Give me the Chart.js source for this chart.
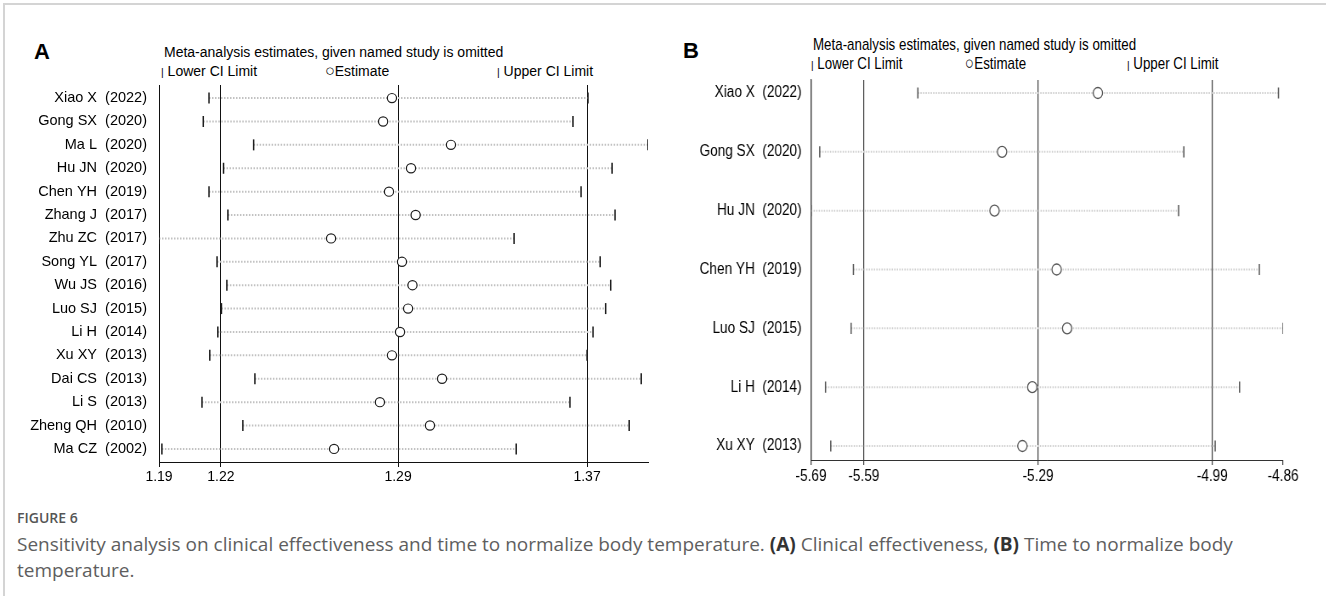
<!DOCTYPE html>
<html><head><meta charset="utf-8">
<script src="https://cdn.jsdelivr.net/npm/chart.js@4.4.1/dist/chart.umd.min.js"></script>
<style>
html,body{margin:0;padding:0;background:#fff;}
body{width:1326px;height:596px;position:relative;overflow:hidden;font-family:"Liberation Sans",Arial,sans-serif;}
.frame{position:absolute;left:3px;top:3px;right:-5px;bottom:-5px;border-top:2px solid #d4d4d4;border-left:2px solid #d4d4d4;}
.t{position:absolute;white-space:nowrap;color:#000;}
.sym{font-size:0.75em;}
.circ{font-size:1.15em;line-height:0;}
.nb{font:15.7px/16px 'Liberation Sans',Arial;transform:scaleX(0.85);transform-origin:0 0;}
#cA{position:absolute;left:0;top:0;}
#cB{position:absolute;left:666px;top:0;width:776px;height:500px;transform:scaleX(0.85);transform-origin:0 0;}
.cap{font-family:"Open Sans",sans-serif;color:#5e5e5e;}
</style></head>
<body>
<div class="frame"></div>

<div class="t" style="left:34px;top:40px;font:bold 22px/24px 'Liberation Sans',Arial;">A</div>
<div class="t" style="left:164px;top:45px;font:14px/14px 'Liberation Sans',Arial;">Meta-analysis estimates, given named study is omitted</div>
<div class="t" style="left:161px;top:64px;font:14px/14px 'Liberation Sans',Arial;"><span class="sym">|</span> Lower CI Limit</div>
<div class="t" style="left:325px;top:64px;font:14px/14px 'Liberation Sans',Arial;"><span class="circ">○</span>Estimate</div>
<div class="t" style="left:497px;top:64px;font:14px/14px 'Liberation Sans',Arial;"><span class="sym">|</span> Upper CI Limit</div>

<div class="t" style="left:683px;top:39px;font:bold 22px/24px 'Liberation Sans',Arial;">B</div>
<div class="t nb" style="left:813px;top:37px;">Meta-analysis estimates, given named study is omitted</div>
<div class="t nb" style="left:811px;top:56px;"><span class="sym">|</span> Lower CI Limit</div>
<div class="t nb" style="left:965px;top:56px;"><span class="circ">○</span>Estimate</div>
<div class="t nb" style="left:1127px;top:56px;"><span class="sym">|</span> Upper CI Limit</div>

<canvas id="cA" width="660" height="500"></canvas>
<canvas id="cB" width="776" height="500"></canvas>

<div class="t cap" style="left:17px;top:509px;font-size:14px;line-height:18px;font-weight:600;color:#555;">FIGURE 6</div>
<div class="t cap" style="left:17px;top:531px;font-size:19px;line-height:26px;">Sensitivity analysis on clinical effectiveness and time to normalize body temperature. <b style="color:#333">(A)</b> Clinical effectiveness, <b style="color:#333">(B)</b> Time to normalize body<br>temperature.</div>

<script>
// ---------- Panel A : clinical effectiveness ----------
const studiesA = ['Xiao X  (2022)','Gong SX  (2020)','Ma L  (2020)','Hu JN  (2020)','Chen YH  (2019)','Zhang J  (2017)','Zhu ZC  (2017)','Song YL  (2017)','Wu JS  (2016)','Luo SJ  (2015)','Li H  (2014)','Xu XY  (2013)','Dai CS  (2013)','Li S  (2013)','Zheng QH  (2010)','Ma CZ  (2002)'];
const lowerA = [1.2154,1.2132,1.2327,1.2210,1.2154,1.2227,1.1963,1.2185,1.2223,1.2202,1.2188,1.2157,1.2332,1.2127,1.2285,1.1974];
const estA   = [1.2879,1.2843,1.3122,1.2957,1.2867,1.2976,1.2633,1.2920,1.2963,1.2945,1.2912,1.2879,1.3085,1.2830,1.3035,1.2645];
const upperA = [1.3704,1.3639,1.3967,1.3809,1.3674,1.3822,1.3387,1.3757,1.3803,1.3781,1.3726,1.3700,1.3937,1.3626,1.3884,1.3396];
const tickValsA   = [1.1963,1.22,1.2904,1.37];
const tickLabelsA = ['1.19','1.22','1.29','1.37'];
const minA = 1.1963, maxA = 1.3967;

// ---------- Panel B : time to normalize body temperature ----------
const studiesB = ['Xiao X  (2022)','Gong SX  (2020)','Hu JN  (2020)','Chen YH  (2019)','Luo SJ  (2015)','Li H  (2014)','Xu XY  (2013)'];
const lowerB = [-5.497,-5.666,-5.681,-5.608,-5.612,-5.656,-5.647];
const estB   = [-5.187,-5.352,-5.365,-5.258,-5.240,-5.300,-5.317];
const upperB = [-4.876,-5.039,-5.048,-4.909,-4.868,-4.943,-4.985];
const tickValsB   = [-5.681,-5.59,-5.29,-4.99,-4.868];
const tickLabelsB = ['-5.69','-5.59','-5.29','-4.99','-4.86'];
const minB = -5.681, maxB = -4.868;

function buildChart(id, cfg) {
  const datasets = [];
  cfg.studies.forEach((s, i) => {
    datasets.push({
      data: [{x: cfg.lower[i], y: i + 1}, {x: cfg.upper[i], y: i + 1}],
      showLine: true, pointRadius: 0, borderColor: cfg.spanColor, borderWidth: 2,
      borderDash: [1.5, 1.5], order: 3
    });
  });
  datasets.push({
    data: cfg.lower.map((v, i) => ({x: v, y: i + 1})),
    pointStyle: 'line', rotation: 90, pointRadius: cfg.tickR, borderWidth: cfg.tickW,
    borderColor: cfg.markColor, backgroundColor: cfg.markColor, order: 1
  });
  datasets.push({
    data: cfg.upper.map((v, i) => ({x: v, y: i + 1})),
    pointStyle: 'line', rotation: 90, pointRadius: cfg.tickR, borderWidth: cfg.tickW,
    borderColor: cfg.markColor, backgroundColor: cfg.markColor, order: 1
  });
  datasets.push({
    data: cfg.est.map((v, i) => ({x: v, y: i + 1})),
    pointStyle: 'circle', pointRadius: cfg.circR, borderWidth: cfg.circW,
    borderColor: cfg.markColor, backgroundColor: '#ffffff', order: 0
  });
  return new Chart(document.getElementById(id), {
    type: 'scatter',
    data: {datasets},
    options: {
      responsive: false, animation: false, events: [],
      layout: {padding: {top: cfg.top, right: cfg.right, left: 0, bottom: 0}},
      plugins: {legend: {display: false}, tooltip: {enabled: false}, title: {display: false}},
      scales: {
        x: {
          type: cfg.xType, min: cfg.min, max: cfg.max,
          afterBuildTicks: ax => { ax.ticks = cfg.tickVals.map(v => ({value: v})); },
          afterFit: ax => { ax.height = cfg.xH; },
          ticks: {
            autoSkip: false, maxRotation: 0, padding: 2, color: '#000',
            font: {family: cfg.fontFam, size: cfg.tickFont},
            callback: (v, i) => cfg.tickLabels[i]
          },
          grid: {
            color: c => (c.index === cfg.noGridIndex ? 'rgba(0,0,0,0)' : cfg.refColor),
            tickColor: cfg.refColor, tickLength: 5, lineWidth: cfg.refW, drawTicks: true
          },
          border: {display: true, color: cfg.axisColor, width: 1}
        },
        y: {
          type: 'linear', reverse: true, min: cfg.yMin, max: cfg.yMax,
          afterBuildTicks: ax => { ax.ticks = cfg.studies.map((s, i) => ({value: i + 1})); },
          afterFit: ax => { ax.width = cfg.yW; },
          ticks: {
            autoSkip: false, padding: cfg.yPad, color: '#000',
            font: {family: cfg.fontFam, size: cfg.labelFont},
            callback: v => cfg.studies[Math.round(v) - 1]
          },
          grid: {display: false, drawTicks: false},
          border: {display: true, color: cfg.axisColor, width: cfg.yBorderW}
        }
      }
    }
  });
}

buildChart('cA', {
  studies: studiesA, lower: lowerA, est: estA, upper: upperA,
  tickVals: tickValsA, tickLabels: tickLabelsA, min: minA, max: maxA, xType: 'logarithmic',
  top: 85, right: 12, xH: 38, yW: 159, yPad: 12, yMin: 0.44, yMax: 16.56,
  fontFam: "'Liberation Sans', Arial", tickFont: 14, labelFont: 14.5,
  spanColor: '#c2c2c2', markColor: '#1e1e1e', refColor: '#111', axisColor: '#111', refW: 1, yBorderW: 1,
  tickR: 5.5, tickW: 1.5, circR: 4.6, circW: 1.2, noGridIndex: -1
});

// panel B is drawn on a wider canvas shown horizontally condensed (factor 0.85)
buildChart('cB', {
  studies: studiesB, lower: lowerB, est: estB, upper: upperB,
  tickVals: tickValsB, tickLabels: tickLabelsB, min: minB, max: maxB, xType: 'linear',
  top: 80, right: 50, xH: 40, yW: 170.6, yPad: 11, yMin: 0.779, yMax: 7.238,
  fontFam: "'Liberation Sans', Arial", tickFont: 16, labelFont: 16,
  spanColor: '#cfcfcf', markColor: '#555', refColor: '#3a3a3a', axisColor: '#333', refW: 1.2, yBorderW: 1.2,
  tickR: 5.6, tickW: 1.5, circR: 5.5, circW: 1.3, noGridIndex: 4
});
</script>
</body></html>
